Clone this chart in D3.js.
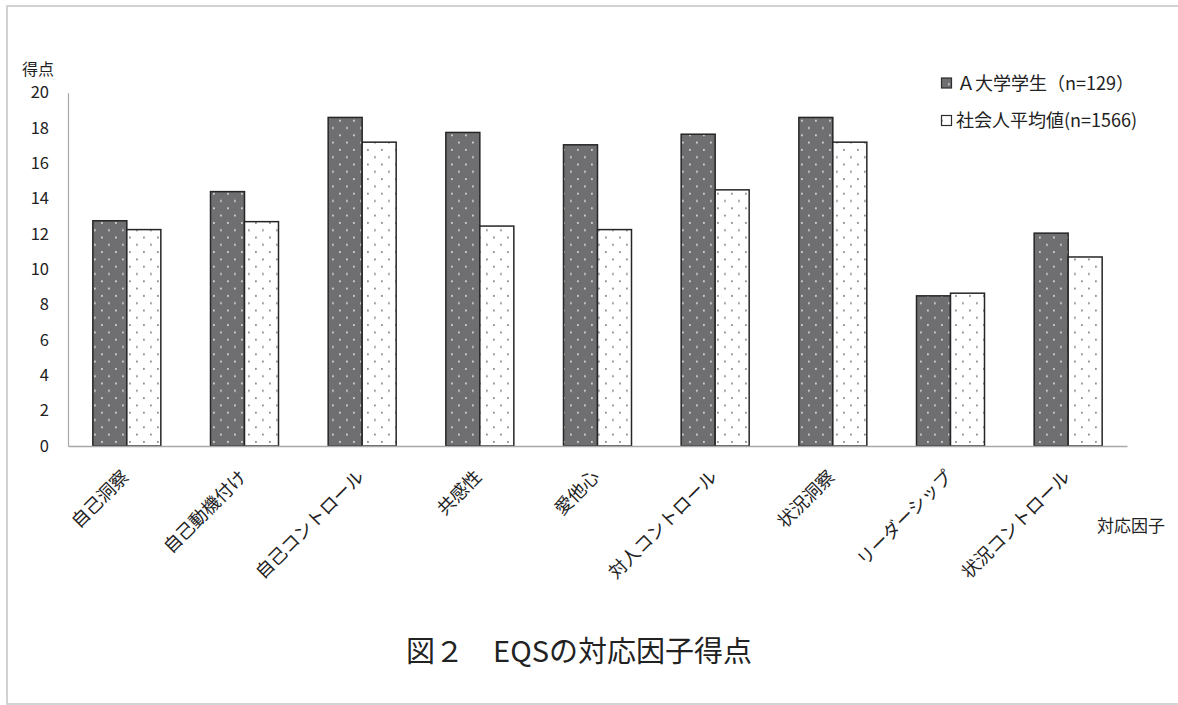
<!DOCTYPE html>
<html lang="ja">
<head>
<meta charset="utf-8">
<script src="https://cdn.jsdelivr.net/npm/d3@7"></script>
<style>
  html, body { margin: 0; padding: 0; background: #fff; }
  svg { display: block; }
  text { font-family: "Noto Sans CJK JP", "Noto Sans", sans-serif; fill: #222; }
</style>
</head>
<body>
<svg id="chart" width="1178" height="705"></svg>
<script>
// EQS factor scores: university students vs. working-adult average
const categories = ["自己洞察", "自己動機付け", "自己コントロール", "共感性", "愛他心",
                    "対人コントロール", "状況洞察", "リーダーシップ", "状況コントロール"];
const studentScores = [12.75, 14.4, 18.6, 17.75, 17.05, 17.65, 18.6, 8.5, 12.05];
const adultScores   = [12.25, 12.7, 17.2, 12.45, 12.25, 14.5, 17.2, 8.65, 10.7];
const seriesNames = ["Ａ大学学生（n=129）", "社会人平均値(n=1566)"];
const yTicks = [0, 2, 4, 6, 8, 10, 12, 14, 16, 18, 20];

const svg = d3.select("#chart");
const W = 1178, H = 705;

// outer frame
svg.append("rect").attr("x", 7).attr("y", 6).attr("width", W + 10).attr("height", 698)
  .attr("fill", "none").attr("stroke", "#c4c4c4").attr("stroke-width", 1.5);

// dot patterns
const defs = svg.append("defs");
function dotPattern(id, bg, dot) {
  const p = defs.append("pattern").attr("id", id).attr("patternUnits", "userSpaceOnUse")
    .attr("width", 14).attr("height", 14.6);
  p.append("rect").attr("width", 14).attr("height", 14.6).attr("fill", bg);
  p.append("rect").attr("x", 3).attr("y", 3).attr("width", 1.8).attr("height", 1.8).attr("fill", dot);
  p.append("rect").attr("x", 10).attr("y", 10.3).attr("width", 1.8).attr("height", 1.8).attr("fill", dot);
}
dotPattern("darkDots", "#6f6f72", "#d4d4d6");
dotPattern("lightDots", "#ffffff", "#8a8a8a");
const fills = ["url(#darkDots)", "url(#lightDots)"];

const plotLeft = 68, plotRight = 1127, plotTop = 92.7, plotBottom = 446;
const x = d3.scaleBand().domain(categories).range([plotLeft, plotRight]).paddingInner(0).paddingOuter(0);
const barW = 34;
const y = d3.scaleLinear().domain([0, 20]).range([plotBottom, plotTop]);

// y axis
const yAxis = d3.axisLeft(y).tickValues(yTicks).tickSize(0).tickPadding(0);
const yg = svg.append("g").attr("transform", `translate(${plotLeft},0)`).call(yAxis);
yg.select(".domain").attr("stroke", "#a8a8a8").attr("stroke-width", 1.2);
yg.selectAll("text").attr("x", -19).attr("font-size", 16.5)
  .style("font-family", '"Noto Sans CJK JP", sans-serif').attr("fill", "#222");

// bars
const series = [studentScores, adultScores];
series.forEach((vals, s) => {
  svg.append("g").selectAll("rect").data(vals).join("rect")
    .attr("x", (d, i) => x(categories[i]) + x.bandwidth() / 2 - barW + s * barW)
    .attr("y", d => y(d))
    .attr("width", barW)
    .attr("height", d => y(0) - y(d))
    .attr("fill", fills[s])
    .attr("stroke", "#262626").attr("stroke-width", 1.5);
});

// x axis baseline
const xAxis = d3.axisBottom(x).tickSize(0).tickFormat("");
const xg = svg.append("g").attr("transform", `translate(0,${plotBottom})`).call(xAxis);
xg.select(".domain").attr("stroke", "#a8a8a8").attr("stroke-width", 1.4);

// rotated category labels
svg.append("g").selectAll("text").data(categories).join("text")
  .attr("transform", d => `translate(${x(d) + x.bandwidth() / 2 + 3},478) rotate(-45)`)
  .attr("text-anchor", "end").attr("font-size", 18).text(d => d);

// axis titles
svg.append("text").attr("x", 22).attr("y", 75).attr("font-size", 16).text("得点");
svg.append("text").attr("x", 1097).attr("y", 532).attr("font-size", 17).text("対応因子");

// legend
const legend = svg.append("g");
[0, 1].forEach(i => {
  const ly = 83 + i * 37.5;
  legend.append("rect").attr("x", 941.5).attr("y", ly - 5).attr("width", 10).attr("height", 10)
    .attr("fill", fills[i]).attr("stroke", "#2e2e2e").attr("stroke-width", 1.2);
  legend.append("text").attr("x", i === 0 ? 957 : 956).attr("y", ly + 6.5).attr("font-size", 18)
    .text(seriesNames[i]);
});

// chart title
svg.append("text").attr("x", 579).attr("y", 662).attr("text-anchor", "middle")
  .attr("font-size", 29).text("図２　EQSの対応因子得点");
</script>
</body>
</html>
